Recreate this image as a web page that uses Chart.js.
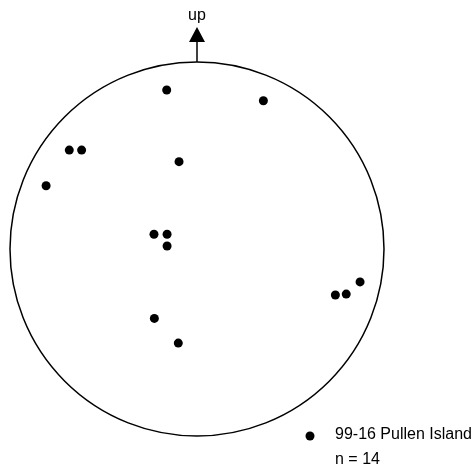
<!DOCTYPE html>
<html>
<head>
<meta charset="utf-8">
<script src="https://cdn.jsdelivr.net/npm/chart.js@4/dist/chart.umd.min.js"></script>
<style>
  html, body { margin: 0; padding: 0; background: #fff; }
  #wrap { width: 474px; height: 467px; }
</style>
</head>
<body>
<div id="wrap"><canvas id="plot" width="474" height="467"></canvas></div>
<script>
// stereonet poles, unit circle coords (x east, y up)
const seriesName = "99-16 Pullen Island";
const countLabel = "n = 14";
const northLabel = "up";

const poleX = [-0.162, 0.355, -0.096, -0.230, -0.160, -0.160, -0.683, -0.617, -0.807, 0.872, 0.798, 0.740, -0.228, -0.100];
const poleY = [0.850, 0.793, 0.467, 0.079, 0.079, 0.016, 0.529, 0.529, 0.338, -0.176, -0.241, -0.246, -0.371, -0.503];

const points = poleX.map((x, i) => ({ x: x, y: poleY[i] }));

const FONT = "16px 'Liberation Sans', Arial, sans-serif";

// primitive circle, up arrow and legend
const netPlugin = {
  id: "net",
  afterDatasetsDraw(chart) {
    const { ctx, scales } = chart;
    const sx = scales.x, sy = scales.y;
    const cx = sx.getPixelForValue(0);
    const cy = sy.getPixelForValue(0);
    const r = sx.getPixelForValue(1) - cx;
    const top = sy.getPixelForValue(1);

    ctx.save();
    ctx.strokeStyle = "#000";
    ctx.lineWidth = 1.5;
    ctx.beginPath();
    ctx.arc(cx, cy, r, 0, Math.PI * 2);
    ctx.stroke();

    // arrow
    ctx.beginPath();
    ctx.moveTo(cx, top);
    ctx.lineTo(cx, top - 21);
    ctx.stroke();
    ctx.fillStyle = "#000";
    ctx.beginPath();
    ctx.moveTo(cx, top - 35);
    ctx.lineTo(cx - 8, top - 20);
    ctx.lineTo(cx + 8, top - 20);
    ctx.closePath();
    ctx.fill();

    ctx.font = FONT;
    ctx.textAlign = "center";
    ctx.textBaseline = "middle";
    ctx.fillText(northLabel, cx, top - 46);

    // legend
    ctx.beginPath();
    ctx.arc(310, 436, 4.5, 0, Math.PI * 2);
    ctx.fill();
    ctx.textAlign = "left";
    ctx.fillText(seriesName, 335, 435);
    ctx.fillText(countLabel, 335, 460);
    ctx.restore();
  }
};

new Chart(document.getElementById("plot"), {
  type: "scatter",
  data: {
    datasets: [{
      label: seriesName,
      data: points,
      pointRadius: 4.5,
      pointHoverRadius: 4.5,
      pointBackgroundColor: "#000",
      pointBorderWidth: 0,
      clip: false
    }]
  },
  options: {
    responsive: false,
    animation: false,
    layout: { padding: { left: 10, right: 90, top: 62, bottom: 31 } },
    plugins: { legend: { display: false }, tooltip: { enabled: false } },
    scales: {
      x: { type: "linear", min: -1, max: 1, display: false },
      y: { type: "linear", min: -1, max: 1, display: false }
    }
  },
  plugins: [netPlugin]
});
</script>
</body>
</html>
